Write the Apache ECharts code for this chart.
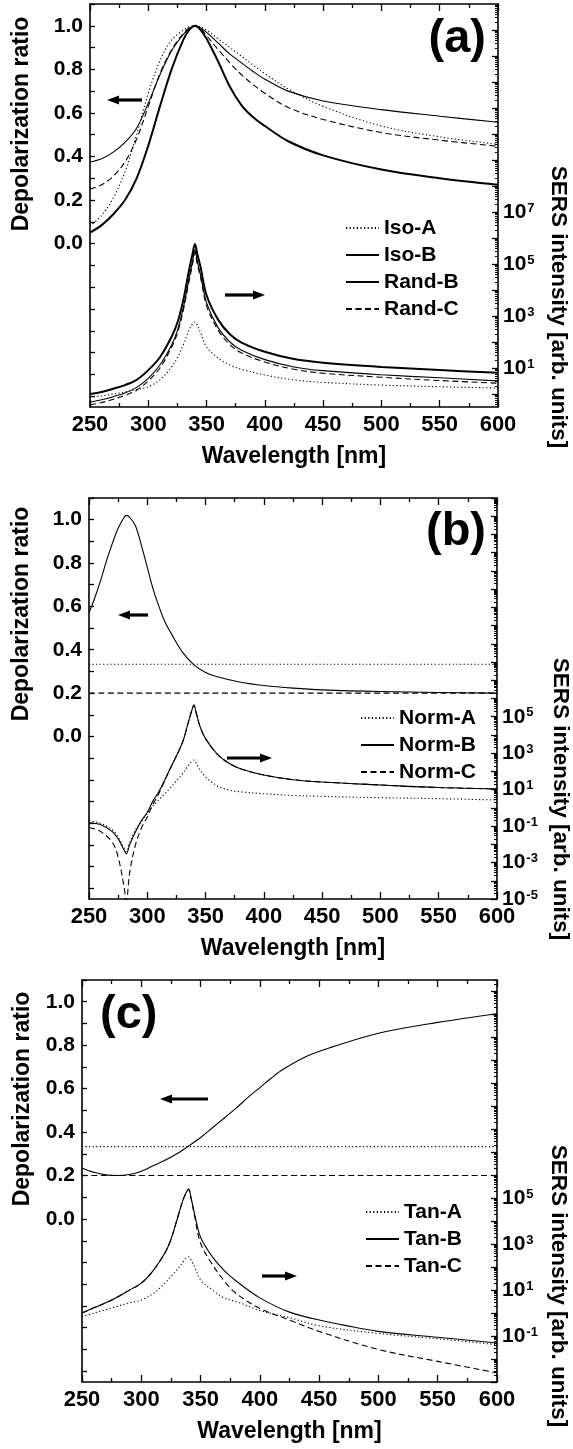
<!DOCTYPE html>
<html><head><meta charset="utf-8">
<script src="https://cdn.jsdelivr.net/npm/echarts@6/dist/echarts.min.js"></script>
<style>html,body{margin:0;padding:0;background:#fff}#c{width:573px;height:1449px}</style>
</head><body><div id="c"></div>
<script>
const FONT = '"Liberation Sans", Arial, Helvetica, sans-serif';

// ---------- shared tick labels ----------
const xTickValues = [250, 300, 350, 400, 450, 500, 550, 600];
const depolTickValues = [-0.7,-0.6,-0.5,-0.4,-0.3,-0.2,-0.1,0,0.1,0.2,0.3,0.4,0.5,0.6,0.7,0.8,0.9,1.0,1.1];
const depolLabelValues = [0, 0.2, 0.4, 0.6, 0.8, 1.0];

// ---------- panel (a) ----------
const wlDepolA = [250,260,270,280,290,300,310,320,330,335,340,345,350,360,370,380,390,400,420,450,500,550,600];
const depolIsoA  = [0.08,0.13,0.21,0.33,0.50,0.69,0.84,0.935,0.98,0.995,1.0,0.995,0.98,0.94,0.90,0.86,0.82,0.78,0.71,0.63,0.54,0.49,0.456];
const depolIsoB  = [0.05,0.085,0.135,0.20,0.30,0.45,0.63,0.80,0.935,0.98,1.0,0.98,0.94,0.835,0.72,0.635,0.58,0.54,0.47,0.405,0.34,0.30,0.27];
const depolRandB = [0.375,0.39,0.42,0.465,0.53,0.645,0.775,0.885,0.96,0.985,1.0,0.99,0.97,0.92,0.87,0.83,0.79,0.755,0.70,0.655,0.615,0.585,0.557];
const depolRandC = [0.25,0.27,0.31,0.375,0.48,0.63,0.78,0.89,0.965,0.99,1.0,0.985,0.955,0.89,0.83,0.775,0.73,0.69,0.625,0.57,0.51,0.475,0.447];

const wlSersA = [250,260,270,280,290,300,310,320,325,330,335,338,340,342,345,350,360,370,380,400,425,450,500,550,600];
const sersIsoA  = [0.76,0.85,1.0,1.2,1.5,1.9,3.5,11,25,76,290,500,590,450,220,65,24,13,8.9,5.4,3.5,2.8,2.2,1.9,1.7];
const sersIsoB  = [1.0,1.2,1.6,2.2,3.5,8.3,26,160,560,4000,5.9e4,2.5e5,5.9e5,2.5e5,7.1e4,6300,710,200,95,42,22,16,11,8.3,6.5];
const sersRandB = [0.49,0.6,0.79,1.1,1.8,4.0,13,76,280,2000,2.8e4,1.3e5,3.5e5,1.3e5,3.5e4,3200,350,100,48,21,11,7.9,5.5,4.2,3.2];
const sersRandC = [0.38,0.47,0.63,0.89,1.4,3.2,10,63,220,1600,2.2e4,1.0e5,2.8e5,1.0e5,2.8e4,2500,280,79,38,17,8.9,6.3,4.4,3.3,2.6];
const sersLabelsA = [1e1, 1e3, 1e5, 1e7];

// ---------- panel (b) ----------
const wlDepolB = [250,255,260,265,270,275,280,282,285,290,295,300,305,310,315,320,330,340,350,360,380,400,425,450,500,550,600];
const depolNormB = [0.57,0.64,0.72,0.81,0.89,0.96,1.01,1.02,1.01,0.97,0.88,0.78,0.68,0.60,0.53,0.48,0.39,0.33,0.295,0.275,0.25,0.235,0.223,0.215,0.207,0.203,0.2];
const wlFlatB = [250, 600];
const depolNormA = [0.333, 0.333];
const depolNormC = [0.2, 0.2];

const wlSersB = [250,260,270,275,280,282,285,290,295,300,305,310,320,330,335,338,340,342,345,350,360,370,380,400,425,450,500,550,600];
const sersNormA = [0.2,0.14,0.063,0.025,0.0063,0.004,0.013,0.063,0.18,0.5,1.3,2.8,13,71,200,350,420,280,130,50,16,9.5,7.6,6.0,4.8,4.3,3.6,3.2,2.7];
const sersNormB = [0.15,0.12,0.05,0.02,0.005,0.003,0.01,0.05,0.2,0.56,2.5,7.9,160,3600,4.5e4,2.0e5,4.4e5,1.6e5,3.2e4,6300,890,280,140,63,35,26,18,13,11];
const sersNormC = [0.083,0.05,0.013,0.002,5e-5,8e-6,3.2e-4,0.01,0.08,0.32,1.6,6.3,160,3600,4.5e4,2.0e5,4.4e5,1.6e5,3.2e4,6300,890,280,140,63,35,26,18,13,11];
const sersLabelsB = [1e-5, 1e-3, 1e-1, 1e1, 1e3, 1e5];

// ---------- panel (c) ----------
const wlDepolC = [250,260,270,280,290,300,310,320,330,340,350,360,370,380,390,400,410,420,440,460,500,550,600];
const depolTanB = [0.235,0.215,0.203,0.2,0.205,0.22,0.245,0.27,0.30,0.336,0.375,0.42,0.465,0.51,0.56,0.605,0.65,0.69,0.75,0.79,0.855,0.905,0.945];
const wlFlatC = [250, 600];
const depolTanA = [0.333, 0.333];
const depolTanC = [0.2, 0.2];

const wlSersC = [250,260,270,280,290,300,310,320,325,330,335,338,340,342,345,350,360,370,380,400,425,450,500,550,600];
const sersTanA = [0.68,1.0,1.4,2.0,2.8,3.7,7.1,20,40,76,160,250,280,200,100,28,10,4.5,3.2,1.3,0.63,0.28,0.13,0.076,0.042];
const sersTanB = [1.0,1.7,2.8,5.0,10,20,71,420,1600,1.1e4,7.9e4,1.8e5,2.5e5,1.0e5,2.0e4,2000,280,71,25,4.6,1.1,0.5,0.16,0.089,0.05];
const sersTanC = [1.0,1.7,2.8,5.0,10,20,71,420,1600,1.1e4,7.9e4,1.8e5,2.5e5,1.0e5,1.6e4,1100,130,25,7.1,1.6,0.5,0.16,0.026,0.0079,0.0025];
const sersLabelsC = [1e-1, 1e1, 1e3, 1e5];

// ---------- helpers ----------
const zip = (xs, ys) => xs.map((x, i) => [x, ys[i]]);
const BLACK = '#000';
const DOT = [1.2, 2.4];
const DASH = [6, 3.5];

function logMinorTicks(lo, hi) {
  const out = [];
  for (let n = Math.floor(Math.log10(lo)); n <= Math.ceil(Math.log10(hi)); n++) {
    for (let m = 1; m <= 9; m++) {
      const v = m * Math.pow(10, n);
      if (v >= lo && v <= hi) out.push(v);
    }
  }
  return out;
}
function logDecades(lo, hi) {
  const out = [];
  for (let n = Math.ceil(Math.log10(lo) - 1e-9); n <= Math.floor(Math.log10(hi) + 1e-9); n++) out.push(Math.pow(10, n));
  return out;
}

const grids = [
  { left: 90, top: 4, width: 408, height: 403, outerBoundsMode: 'none' },
  { left: 89, top: 498, width: 408, height: 401, outerBoundsMode: 'none' },
  { left: 82, top: 980, width: 415, height: 402, outerBoundsMode: 'none' }
];
const logRanges = [[Math.pow(10, -0.5), 1e15], [1e-5, 1e17], [1e-3, Math.pow(10, 14.5)]];
const logLabels = [sersLabelsA, sersLabelsB, sersLabelsC];

const axisLineStyle = { color: BLACK, width: 1.6 };
const tickLine = { color: BLACK, width: 1.3 };

const xAxes = [], yAxes = [];
grids.forEach((g, gi) => {
  const base = {
    type: 'value', gridIndex: gi, min: 250, max: 600, interval: 50,
    axisLine: { show: true, onZero: false, lineStyle: axisLineStyle },
    axisTick: { show: true, inside: true, length: 7, lineStyle: tickLine },
    minorTick: { show: true, splitNumber: 2, length: 4, lineStyle: tickLine },
    splitLine: { show: false }, minorSplitLine: { show: false }
  };
  xAxes.push(Object.assign({}, base, {
    position: 'bottom',
    name: 'Wavelength [nm]', nameLocation: 'middle', nameGap: 38,
    nameTextStyle: { fontFamily: FONT, fontWeight: 'bold', fontSize: 23, color: BLACK },
    axisLabel: { show: true, customValues: xTickValues, fontFamily: FONT, fontWeight: 'bold', fontSize: 22, color: BLACK, margin: 7 }
  }));
  xAxes.push(Object.assign({}, base, { position: 'top', axisLabel: { show: false } }));

  yAxes.push({
    type: 'value', gridIndex: gi, position: 'left', min: -0.75, max: 1.1,
    axisLine: { show: true, onZero: false, lineStyle: axisLineStyle },
    axisTick: { show: true, inside: true, length: 5, lineStyle: tickLine, customValues: depolTickValues },
    axisLabel: { show: true, customValues: depolLabelValues, formatter: v => Number(v).toFixed(1),
      fontFamily: FONT, fontWeight: 'bold', fontSize: 21, color: BLACK, margin: 7 },
    splitLine: { show: false }
  });
  const [lo, hi] = logRanges[gi];
  yAxes.push({
    type: 'log', logBase: 10, gridIndex: gi, position: 'right', min: lo, max: hi,
    axisLine: { show: true, onZero: false, lineStyle: axisLineStyle },
    axisTick: { show: true, inside: true, length: 3, lineStyle: { color: BLACK, width: 1 }, customValues: logMinorTicks(lo, hi) },
    axisLabel: {
      show: true, customValues: logLabels[gi], margin: 5,
      formatter: v => '{b|10}{s|' + Math.round(Math.log10(v)) + '}',
      rich: {
        b: { fontFamily: FONT, fontWeight: 'bold', fontSize: 21, lineHeight: 21, color: BLACK, verticalAlign: 'bottom' },
        s: { fontFamily: FONT, fontWeight: 'bold', fontSize: 13, lineHeight: 13, color: BLACK, verticalAlign: 'top', padding: [0, 0, 16, 1] }
      }
    },
    splitLine: { show: false }
  });
  yAxes.push({
    type: 'log', logBase: 10, gridIndex: gi, position: 'right', min: lo, max: hi,
    axisLine: { show: false, onZero: false },
    axisTick: { show: true, inside: true, length: 6, lineStyle: { color: BLACK, width: 1.3 }, customValues: logDecades(lo, hi) },
    axisLabel: { show: false },
    splitLine: { show: false }
  });
});

function line(name, gi, right, xs, ys, type, width) {
  return {
    type: 'line', name, xAxisIndex: gi * 2, yAxisIndex: gi * 3 + (right ? 1 : 0),
    data: zip(xs, ys), symbol: 'none', showSymbol: false, smooth: 0.35, animation: false,
    lineStyle: { color: BLACK, width: width || 1, type: type || 'solid' },
    itemStyle: { color: BLACK }, emphasis: { disabled: true }
  };
}

const series = [
  // (a)
  line('Iso-A', 0, false, wlDepolA, depolIsoA, DOT, 1.1),
  line('Iso-B', 0, false, wlDepolA, depolIsoB, 'solid', 2),
  line('Rand-B', 0, false, wlDepolA, depolRandB, 'solid', 1.1),
  line('Rand-C', 0, false, wlDepolA, depolRandC, DASH, 1.1),
  line('Iso-A', 0, true, wlSersA, sersIsoA, DOT, 1.1),
  line('Iso-B', 0, true, wlSersA, sersIsoB, 'solid', 2),
  line('Rand-B', 0, true, wlSersA, sersRandB, 'solid', 1.1),
  line('Rand-C', 0, true, wlSersA, sersRandC, DASH, 1.1),
  // (b)
  line('Norm-A', 1, false, wlFlatB, depolNormA, DOT, 1.1),
  line('Norm-B', 1, false, wlDepolB, depolNormB, 'solid', 1.1),
  line('Norm-C', 1, false, wlFlatB, depolNormC, DASH, 1.1),
  line('Norm-A', 1, true, wlSersB, sersNormA, DOT, 1.1),
  line('Norm-B', 1, true, wlSersB, sersNormB, 'solid', 1.1),
  line('Norm-C', 1, true, wlSersB, sersNormC, DASH, 1.1),
  // (c)
  line('Tan-A', 2, false, wlFlatC, depolTanA, DOT, 1.1),
  line('Tan-B', 2, false, wlDepolC, depolTanB, 'solid', 1.1),
  line('Tan-C', 2, false, wlFlatC, depolTanC, DASH, 1.1),
  line('Tan-A', 2, true, wlSersC, sersTanA, DOT, 1.1),
  line('Tan-B', 2, true, wlSersC, sersTanB, 'solid', 1.1),
  line('Tan-C', 2, true, wlSersC, sersTanC, DASH, 1.1)
];

function legend(names, left, top) {
  return {
    data: names, orient: 'vertical', left, top, itemWidth: 33, itemHeight: 22, itemGap: 5,
    selectedMode: false, padding: 0,
    itemStyle: { opacity: 0 },
    textStyle: { fontFamily: FONT, fontWeight: 'bold', fontSize: 21, color: BLACK, lineHeight: 22 }
  };
}

function vtext(text, x, y, rot, size) {
  return { type: 'text', x, y, rotation: rot, silent: true,
    style: { text, fontFamily: FONT, fontWeight: 'bold', fontSize: size, fill: BLACK, align: 'center', verticalAlign: 'middle' } };
}
function ptext(text, x, y, align) {
  return { type: 'text', x, y, silent: true,
    style: { text, fontFamily: FONT, fontWeight: 'bold', fontSize: 47, fill: BLACK, align, verticalAlign: 'middle' } };
}
function arrow(tail, tip, y) {
  const d = tip > tail ? 1 : -1;
  const hl = 12, hw = 4.5;
  return { type: 'group', silent: true, children: [
    { type: 'line', shape: { x1: tail, y1: y, x2: tip - d * hl + d, y2: y }, style: { stroke: BLACK, lineWidth: 3.2 } },
    { type: 'polygon', shape: { points: [[tip, y], [tip - d * hl, y - hw], [tip - d * hl, y + hw]] }, style: { fill: BLACK } }
  ] };
}

const option = {
  backgroundColor: '#fff',
  animation: false,
  grid: grids,
  xAxis: xAxes,
  yAxis: yAxes,
  legend: [
    legend(['Iso-A', 'Iso-B', 'Rand-B', 'Rand-C'], 345, 217),
    legend(['Norm-A', 'Norm-B', 'Norm-C'], 360, 707),
    legend(['Tan-A', 'Tan-B', 'Tan-C'], 365, 1201)
  ],
  series,
  graphic: [
    vtext('Depolarization ratio', 22, 124, Math.PI / 2, 23),
    vtext('Depolarization ratio', 22, 614, Math.PI / 2, 23),
    vtext('Depolarization ratio', 23, 1099, Math.PI / 2, 23),
    vtext('SERS intensity [arb. units]', 558, 307, -Math.PI / 2, 22.5),
    vtext('SERS intensity [arb. units]', 560, 799, -Math.PI / 2, 22.5),
    vtext('SERS intensity [arb. units]', 558, 1286, -Math.PI / 2, 22.5),
    ptext('(a)', 486, 39, 'right'),
    ptext('(b)', 486, 532, 'right'),
    ptext('(c)', 100, 1015, 'left'),
    arrow(142, 107, 100), arrow(225, 265, 295),
    arrow(148, 118, 615), arrow(227, 272, 758),
    arrow(208, 160, 1099), arrow(262, 297, 1276)
  ]
};

const chart = echarts.init(document.getElementById('c'), null, { renderer: 'canvas' });
chart.setOption(option);
</script>
</body></html>
